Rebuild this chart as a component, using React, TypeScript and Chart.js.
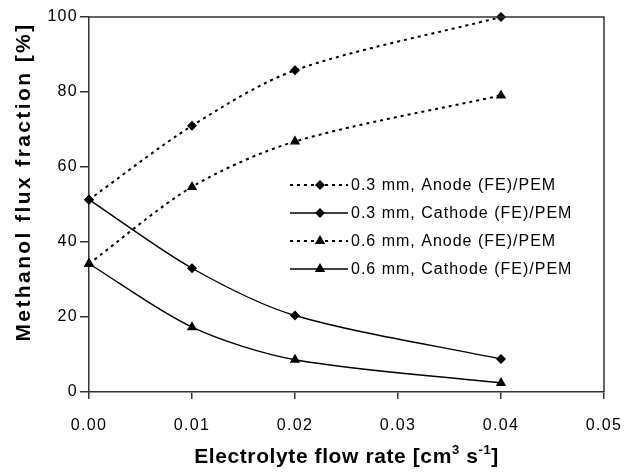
import React, { useEffect, useRef } from 'react';
import { Chart, registerables } from 'chart.js';

Chart.register(...registerables);

// ---- data ----
const flowRates = [0, 0.01, 0.02, 0.04];
const anode03 = [51.3, 71, 85.8, 100];
const cathode03 = [51.3, 33, 20.4, 8.8];
const anode06 = [34.2, 54.7, 66.8, 79.1];
const cathode06 = [34.2, 17.3, 8.6, 2.4];
const seriesLabels = [
  '0.3 mm, Anode (FE)/PEM',
  '0.3 mm, Cathode (FE)/PEM',
  '0.6 mm, Anode (FE)/PEM',
  '0.6 mm, Cathode (FE)/PEM',
];
const yTickValues = [0, 20, 40, 60, 80, 100];
const xTickValues = [0, 0.01, 0.02, 0.03, 0.04, 0.05];
const yTitle = 'Methanol flux fraction [%]';
const xTitleParts: [string, boolean][] = [
  ['Electrolyte flow rate [cm', false],
  ['3', true],
  [' s', false],
  ['-1', true],
  [']', false],
];

const FONT = '"Liberation Sans", Arial, Helvetica, sans-serif';
const INK = '#000000';
const AXIS = '#333333';

function drawMarker(ctx: CanvasRenderingContext2D, style: string, x: number, y: number, r: number) {
  ctx.beginPath();
  if (style === 'rectRot') {
    ctx.moveTo(x, y - r);
    ctx.lineTo(x + r, y);
    ctx.lineTo(x, y + r);
    ctx.lineTo(x - r, y);
  } else {
    const h = r * 1.5;
    const w = r * Math.sqrt(3);
    ctx.moveTo(x, y - r);
    ctx.lineTo(x + w / 2, y - r + h);
    ctx.lineTo(x - w / 2, y - r + h);
  }
  ctx.closePath();
  ctx.fillStyle = INK;
  ctx.fill();
}

const spacingPlugin = {
  id: 'spacing',
  beforeDraw(chart: any) {
    (chart.ctx as any).letterSpacing = '1.3px';
  },
};

const decorPlugin = {
  id: 'decor',
  afterDraw(chart: any) {
    const ctx: CanvasRenderingContext2D = chart.ctx;
    const ca = chart.chartArea;
    ctx.save();
    // frame top & right
    ctx.strokeStyle = AXIS;
    ctx.lineWidth = 1.5;
    ctx.beginPath();
    ctx.moveTo(ca.left, ca.top);
    ctx.lineTo(ca.right, ca.top);
    ctx.lineTo(ca.right, ca.bottom);
    ctx.stroke();

    // legend
    const lx = ca.left + 201;
    const ly = ca.top + 168;
    const step = 28;
    ctx.font = `16px ${FONT}`;
    (ctx as any).letterSpacing = '1px';
    ctx.textBaseline = 'middle';
    ctx.textAlign = 'left';
    chart.data.datasets.forEach((ds: any, i: number) => {
      const y = ly + i * step;
      ctx.save();
      ctx.strokeStyle = INK;
      ctx.lineWidth = ds.borderWidth;
      ctx.setLineDash(ds.borderDash || []);
      ctx.beginPath();
      ctx.moveTo(lx, y);
      ctx.lineTo(lx + 58, y);
      ctx.stroke();
      ctx.restore();
      drawMarker(ctx, ds.pointStyle, lx + 30, y, ds.pointRadius);
      ctx.fillStyle = INK;
      ctx.fillText(ds.label, lx + 61, y + 1);
    });

    // y title
    ctx.save();
    ctx.translate(24, ca.top + 165);
    ctx.rotate(-Math.PI / 2);
    ctx.font = `bold 21px ${FONT}`;
    (ctx as any).letterSpacing = '2.4px';
    ctx.textAlign = 'center';
    ctx.textBaseline = 'middle';
    ctx.fillStyle = INK;
    ctx.fillText(yTitle, 0, 0);
    ctx.restore();

    // x title with superscripts
    const mainFont = `bold 21px ${FONT}`;
    const supFont = `bold 13px ${FONT}`;
    (ctx as any).letterSpacing = '0.6px';
    let total = 0;
    xTitleParts.forEach(([t, sup]) => {
      ctx.font = sup ? supFont : mainFont;
      total += ctx.measureText(t).width;
    });
    let x = (ca.left + ca.right) / 2 - total / 2;
    const by = 463;
    ctx.textAlign = 'left';
    ctx.textBaseline = 'alphabetic';
    ctx.fillStyle = INK;
    xTitleParts.forEach(([t, sup]) => {
      ctx.font = sup ? supFont : mainFont;
      ctx.fillText(t, x, sup ? by - 9 : by);
      x += ctx.measureText(t).width;
    });
    ctx.restore();
  },
};

export default function App() {
  const ref = useRef<HTMLCanvasElement | null>(null);

  useEffect(() => {
    document.body.style.margin = '0';
    document.body.style.background = '#ffffff';
    const canvas = ref.current;
    if (!canvas) return;
    const mk = (vals: number[]) => flowRates.map((x, i) => ({ x, y: vals[i] }));
    const chart = new Chart(canvas, {
      type: 'line',
      data: {
        datasets: [
          { label: seriesLabels[0], data: mk(anode03), borderDash: [3, 4], pointStyle: 'rectRot', pointRadius: 5 },
          { label: seriesLabels[1], data: mk(cathode03), borderDash: [], pointStyle: 'rectRot', pointRadius: 5 },
          { label: seriesLabels[2], data: mk(anode06), borderDash: [3, 4], pointStyle: 'triangle', pointRadius: 6 },
          { label: seriesLabels[3], data: mk(cathode06), borderDash: [], pointStyle: 'triangle', pointRadius: 6 },
        ].map((d) => ({
          ...d,
          borderColor: INK,
          backgroundColor: INK,
          pointBackgroundColor: INK,
          pointBorderColor: INK,
          pointBorderWidth: 0,
          pointHoverRadius: d.pointRadius,
          borderWidth: d.borderDash.length ? 2 : 1.4,
          tension: 0.3,
          fill: false,
          clip: false as any,
        })),
      },
      options: {
        responsive: false,
        animation: false,
        events: [],
        layout: { padding: { left: 0, top: 17, right: 30, bottom: 0 } },
        plugins: {
          legend: { display: false },
          tooltip: { enabled: false },
          title: { display: false },
        },
        scales: {
          x: {
            type: 'linear',
            min: 0,
            max: 0.05,
            afterBuildTicks: (s: any) => { s.ticks = xTickValues.map((v) => ({ value: v })); },
            afterFit: (s: any) => { s.height = 81; s.paddingLeft = 0; s.paddingRight = 0; },
            ticks: {
              color: INK,
              font: { family: FONT, size: 16 },
              padding: 17,
              maxRotation: 0,
              callback: (v: any) => Number(v).toFixed(2),
            },
            grid: { drawOnChartArea: false, drawTicks: true, tickLength: 7, color: AXIS, lineWidth: 1.5 },
            border: { display: true, color: AXIS, width: 1.5 },
          },
          y: {
            type: 'linear',
            min: 0,
            max: 100,
            afterBuildTicks: (s: any) => { s.ticks = yTickValues.map((v) => ({ value: v })); },
            afterFit: (s: any) => { s.width = 89; s.paddingTop = 0; s.paddingBottom = 0; },
            ticks: {
              color: INK,
              font: { family: FONT, size: 16 },
              padding: 2,
            },
            grid: { drawOnChartArea: false, drawTicks: true, tickLength: 9, color: AXIS, lineWidth: 1.5 },
            border: { display: true, color: AXIS, width: 1.5 },
          },
        },
      },
      plugins: [spacingPlugin, decorPlugin],
    } as any);
    return () => chart.destroy();
  }, []);

  return (
    <div style={{ position: 'absolute', left: 0, top: 0, width: 634, height: 473, background: '#fff' }}>
      <canvas ref={ref} width={634} height={473} style={{ display: 'block' }} />
    </div>
  );
}
